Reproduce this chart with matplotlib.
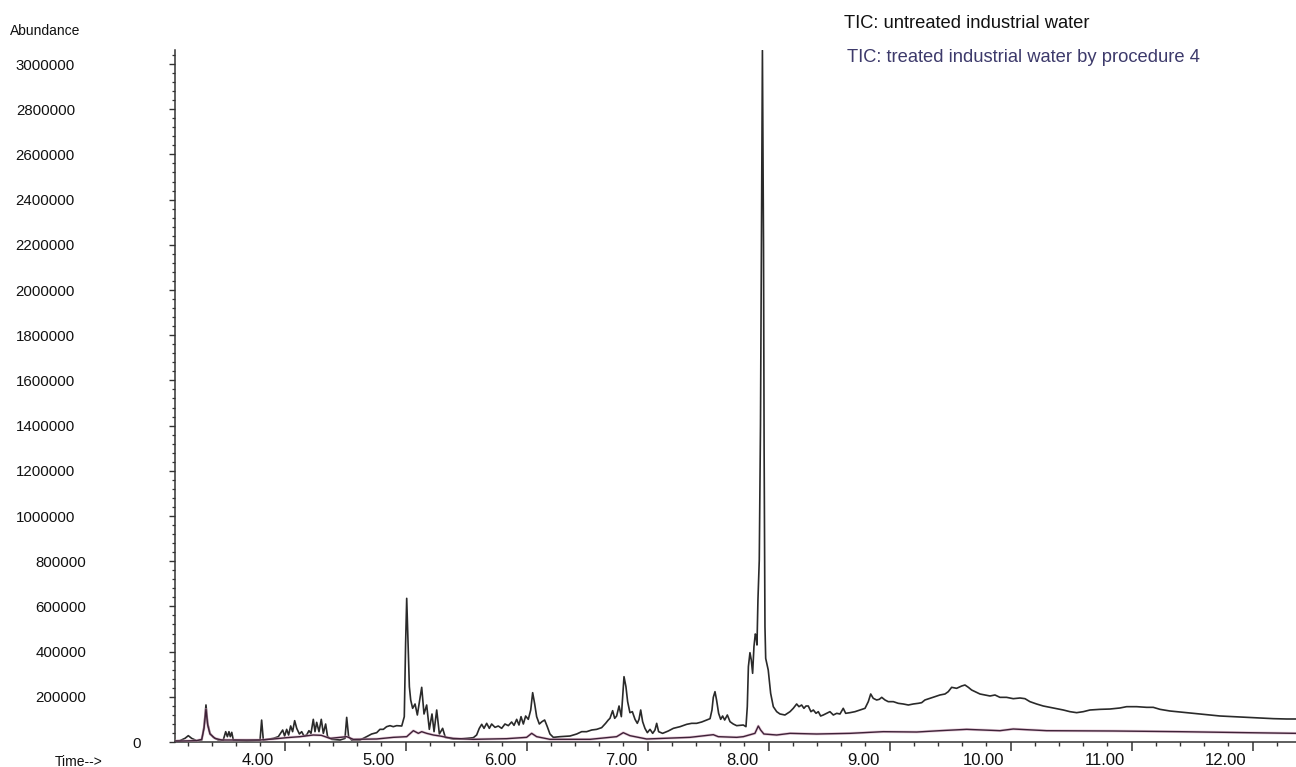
import matplotlib
matplotlib.use('Agg')
import matplotlib.pyplot as plt
import matplotlib.transforms as mtransforms
from matplotlib.ticker import FixedLocator

FONT = ['Liberation Sans', 'DejaVu Sans']
plt.rcParams['font.family'] = FONT

# ---------------- data ----------------
untreated_time = [
    3.314, 3.355, 3.397, 3.424, 3.452, 3.493, 3.535, 3.554, 3.570, 3.584, 3.603, 3.631,
    3.672, 3.713, 3.733, 3.747, 3.760, 3.771, 3.783, 3.796, 3.907, 4.017, 4.030, 4.044,
    4.127, 4.168, 4.204, 4.220, 4.237, 4.253, 4.270, 4.286, 4.303, 4.320, 4.342, 4.361,
    4.380, 4.402, 4.421, 4.438, 4.457, 4.471, 4.485, 4.504, 4.523, 4.540, 4.559, 4.575,
    4.609, 4.678, 4.719, 4.733, 4.749, 4.774, 4.843, 4.898, 4.939, 4.981, 5.008, 5.036,
    5.063, 5.091, 5.118, 5.146, 5.188, 5.209, 5.220, 5.229, 5.240, 5.251, 5.262, 5.278,
    5.298, 5.317, 5.353, 5.372, 5.394, 5.416, 5.438, 5.455, 5.477, 5.499, 5.526, 5.548,
    5.614, 5.669, 5.780, 5.807, 5.829, 5.849, 5.868, 5.890, 5.912, 5.931, 5.959, 5.986,
    6.014, 6.041, 6.069, 6.096, 6.116, 6.138, 6.157, 6.174, 6.193, 6.212, 6.234, 6.254,
    6.270, 6.286, 6.303, 6.325, 6.347, 6.369, 6.391, 6.413, 6.441, 6.496, 6.579, 6.634,
    6.675, 6.716, 6.758, 6.799, 6.840, 6.873, 6.895, 6.909, 6.931, 6.948, 6.964, 6.984,
    7.003, 7.025, 7.041, 7.055, 7.074, 7.094, 7.116, 7.135, 7.149, 7.163, 7.179, 7.198,
    7.218, 7.240, 7.262, 7.281, 7.295, 7.311, 7.344, 7.391, 7.433, 7.488, 7.543, 7.584,
    7.625, 7.667, 7.708, 7.736, 7.752, 7.763, 7.777, 7.790, 7.807, 7.824, 7.840, 7.857,
    7.879, 7.901, 7.928, 7.956, 8.011, 8.033, 8.044, 8.053, 8.066, 8.077, 8.088, 8.099,
    8.110, 8.116, 8.124, 8.132, 8.143, 8.153, 8.161, 8.169, 8.178, 8.183, 8.190, 8.196,
    8.217, 8.237, 8.259, 8.287, 8.314, 8.355, 8.397, 8.424, 8.452, 8.471, 8.493, 8.512,
    8.529, 8.548, 8.570, 8.590, 8.612, 8.631, 8.650, 8.672, 8.700, 8.727, 8.755, 8.783,
    8.810, 8.837, 8.857, 8.893, 8.934, 8.975, 9.017, 9.044, 9.064, 9.085, 9.113, 9.135,
    9.155, 9.182, 9.209, 9.251, 9.292, 9.333, 9.375, 9.416, 9.457, 9.485, 9.512, 9.554,
    9.595, 9.636, 9.678, 9.705, 9.733, 9.774, 9.816, 9.843, 9.871, 9.898, 9.926, 9.967,
    10.008, 10.050, 10.091, 10.132, 10.187, 10.242, 10.298, 10.339, 10.380, 10.435, 10.490,
    10.545, 10.601, 10.656, 10.711, 10.766, 10.821, 10.876, 10.959, 11.041, 11.124, 11.179,
    11.262, 11.344, 11.399, 11.455, 11.537, 11.620, 11.730, 11.840, 11.950, 12.061, 12.171,
    12.281, 12.391, 12.501, 12.579,
]
untreated_abundance = [
    5000, 6000, 16400, 28000, 16000, 6000, 8850, 68000, 164000, 82600, 38400, 20600,
    8850, 8850, 45700, 23600, 45700, 23600, 42800, 8850, 6000, 8850, 97000, 8850,
    16000, 23600, 53000, 26500, 56000, 31000, 71000, 45700, 94400, 60500, 35400, 45700,
    26500, 31000, 50100, 38300, 100300, 45700, 87000, 45700, 100300, 38300, 79600, 23600,
    11800, 8850, 16000, 109000, 23600, 8850, 8850, 23600, 35400, 41300, 56000, 56000,
    67800, 72300, 67800, 72300, 70800, 112000, 436700, 635700, 436700, 244800, 185900, 149000,
    168200, 119500, 241900, 123900, 163700, 56000, 123900, 45700, 141600, 35400, 60500, 20600,
    13300, 13300, 19200, 31000, 60500, 78200, 60500, 82600, 60500, 79600, 64900, 70800,
    60500, 79600, 72300, 88500, 73700, 100300, 75200, 112100, 79600, 115000, 100300, 141600,
    218300, 171000, 112100, 79600, 90000, 97300, 67800, 35400, 20600, 23600, 26500, 35400,
    45700, 45700, 53100, 56000, 63400, 82600, 97300, 104800, 138600, 104800, 115000, 159300,
    112100, 289000, 244800, 178500, 129800, 134200, 100300, 82600, 100300, 141600, 90000, 60500,
    41300, 56000, 38300, 53100, 82600, 45700, 38300, 48700, 60500, 67800, 78200, 82600,
    82600, 88500, 97300, 103200, 141600, 197600, 222700, 185900, 126900, 100300, 115000, 97300,
    119500, 90000, 79600, 72300, 75200, 67800, 156300, 333300, 395200, 362900, 303900, 421800,
    477900, 473500, 429200, 628400, 805000, 1400000, 2200000, 3060000, 2200000, 1300000, 510000, 370000,
    318600, 215400, 156300, 134200, 124000, 119500, 134200, 149000, 168200, 156300, 163700, 149000,
    159300, 159300, 134200, 141600, 126900, 134200, 115000, 119500, 126900, 134200, 119500, 126900,
    123900, 149000, 126900, 129800, 134200, 141600, 149000, 178500, 212400, 193200, 185900, 188800,
    197600, 185900, 178500, 178500, 171100, 168200, 163700, 168200, 171100, 174000, 185900, 193200,
    200600, 208000, 212400, 222700, 241900, 237500, 247800, 252200, 241900, 230100, 222700, 212400,
    208000, 203600, 208000, 197600, 197600, 191700, 194700, 191700, 178500, 168200, 159300,
    153400, 147500, 141600, 134200, 129800, 134200, 141600, 144500, 145900, 150500, 156300,
    156300, 153400, 153400, 144500, 137200, 132800, 126900, 120900, 115100, 112100, 109100,
    106200, 103300, 101800, 101800,
]

treated_time = [
    3.314, 3.355, 3.493, 3.535, 3.554, 3.570, 3.584, 3.603, 3.645, 3.700, 4.017, 4.127,
    4.237, 4.347, 4.457, 4.523, 4.595, 4.733, 4.788, 4.981, 5.118, 5.229, 5.284, 5.325,
    5.353, 5.394, 5.449, 5.504, 5.559, 5.614, 5.780, 6.055, 6.220, 6.262, 6.303, 6.413,
    6.744, 6.964, 7.019, 7.074, 7.212, 7.570, 7.763, 7.804, 7.956, 8.011, 8.107, 8.135,
    8.154, 8.181, 8.287, 8.397, 8.617, 8.893, 9.168, 9.444, 9.636, 9.857, 10.132, 10.242,
    10.518, 11.069, 11.620, 12.171, 12.579,
]
treated_abundance = [
    4400, 4400, 5900, 11800, 60500, 144500, 75200, 35400, 16000, 8850, 8850, 13300,
    19200, 23600, 31000, 29500, 16000, 23600, 11800, 13300, 20600, 23600, 50100, 38300,
    45700, 38300, 31000, 26500, 20600, 16000, 11800, 14700, 20600, 38300, 23600, 11800,
    11800, 23600, 41300, 28000, 13300, 20600, 32400, 23600, 20600, 23600, 38300, 70800,
    53100, 35400, 31000, 38300, 35400, 38300, 45700, 44200, 50100, 56000, 50100, 57500,
    50100, 48700, 45700, 41300, 38300,
]

y_tick_values = list(range(0, 3000001, 200000))
y_tick_labels = [str(v) for v in y_tick_values]
x_label_values = [4, 5, 6, 7, 8, 9, 10, 11, 12]
x_tick_labels = ['4.00', '5.00', '6.00', '7.00', '8.00', '9.00', '10.00', '11.00', '12.00']
legend_texts = ['TIC: untreated industrial water',
                'TIC: treated industrial water by procedure 4']

# ---------------- figure ----------------
W, H = 1296, 767
fig = plt.figure(figsize=(W / 100, H / 100), dpi=100)
ax = fig.add_axes([175 / W, 25 / H, (W - 175) / W, 692 / H])

ax.plot(untreated_time, untreated_abundance, color='#2a2a2a', lw=1.2, zorder=3)
ax.plot(treated_time, treated_abundance, color='#d6a8bf', lw=2.0, alpha=0.6, zorder=4)
ax.plot(treated_time, treated_abundance, color='#3e2238', lw=1.0, zorder=5)

ax.set_xlim(3.314, 12.579)
ax.set_ylim(0, 3061947)

for s in ('top', 'right'):
    ax.spines[s].set_visible(False)
for s in ('left', 'bottom'):
    ax.spines[s].set_color('#333333')
    ax.spines[s].set_linewidth(1.1)

# x ticks: long ticks every 1.0 (offset), short every 0.2
long_ticks = [v + 0.22 for v in range(3, 13)]
short_ticks = [3.02 + 0.2 * k for k in range(48)]
ax.xaxis.set_major_locator(FixedLocator(long_ticks))
ax.xaxis.set_minor_locator(FixedLocator(short_ticks))
ax.tick_params(axis='x', which='major', direction='out', length=6.5, width=1.1,
               color='#333333', labelbottom=False)
ax.tick_params(axis='x', which='minor', direction='out', length=3, width=1.0,
               color='#333333')

secax = ax.secondary_xaxis('bottom')
secax.set_xticks(x_label_values, labels=x_tick_labels)
secax.tick_params(length=0, pad=8, labelsize=12, labelcolor='#111111')
secax.spines['bottom'].set_visible(False)

# y ticks
ax.set_yticks(y_tick_values, labels=y_tick_labels)
ax.yaxis.set_minor_locator(FixedLocator(list(range(0, 3061947, 40000))))
ax.tick_params(axis='y', which='major', direction='out', length=4, width=1.0,
               color='#333333', labelsize=10.8, labelcolor='#111111', pad=68)
ax.tick_params(axis='y', which='minor', direction='out', length=2.2, width=0.9,
               color='#333333')

# per-label horizontal offsets to mimic the reference's label placement
for tick, val in zip(ax.yaxis.get_major_ticks(), y_tick_values):
    if val == 0:
        dx = 66
    elif val < 1000000:
        dx = 11
    else:
        dx = 0
    off = mtransforms.ScaledTranslation(dx / 100, 0, fig.dpi_scale_trans)
    tick.label1.set_transform(tick.label1.get_transform() + off)

fig.text(10 / W, 1 - 31 / H, 'Abundance', ha='left', va='center', fontsize=10,
         color='#111111')
fig.text(55 / W, 1 - 762 / H, 'Time-->', ha='left', va='center', fontsize=10,
         color='#111111')
fig.text(844 / W, 1 - 23 / H, legend_texts[0], ha='left', va='center', fontsize=13.2,
         color='#111111')
fig.text(847 / W, 1 - 57 / H, legend_texts[1], ha='left', va='center', fontsize=13.2,
         color='#3d3a6b')

fig.savefig('out.png', dpi=100)
